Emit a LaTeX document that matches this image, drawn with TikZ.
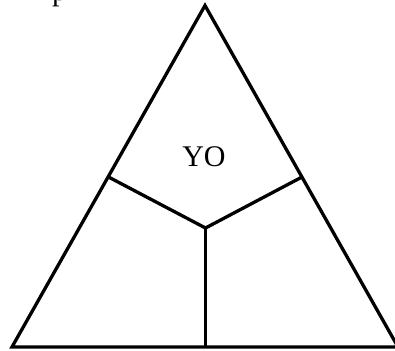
\documentclass[tikz,border=0pt]{standalone}
\usepackage{fontspec}
\setmainfont{Liberation Serif}
\begin{document}
\begin{tikzpicture}[x=1pt,y=-1pt,
  edge/.style={line width=3.3pt,line join=miter,black},
  lbl/.style={font=\fontsize{30}{36}\selectfont,inner sep=0pt}]
\useasboundingbox (0,0) rectangle (395,350);
\coordinate (A) at (205,5.5);
\coordinate (L) at (12,347);
\coordinate (R) at (398,347);
\coordinate (C) at (205.5,228);
\coordinate (PL) at (108.5,177);
\coordinate (PR) at (302,177);
\coordinate (PB) at (205.5,347);
\draw[edge] (A) -- (L) -- (R) -- cycle;
\draw[edge] (PL) -- (C) -- (PR);
\draw[edge] (C) -- (PB);
\node[lbl] (yo) at (204,157) {YO};
\node[lbl,anchor=base west] (p) at (52,0.5) {p};
\end{tikzpicture}
\end{document}
